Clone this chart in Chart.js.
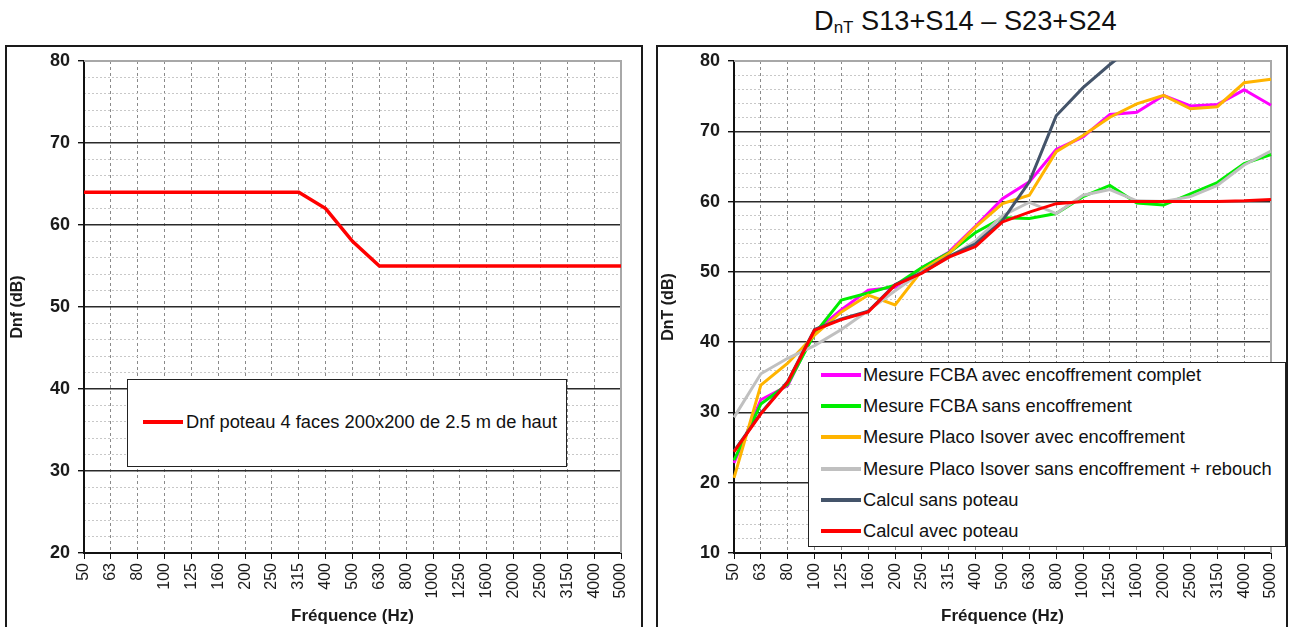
<!DOCTYPE html>
<html>
<head>
<meta charset="utf-8">
<script src="https://cdn.jsdelivr.net/npm/chart.js@4.4.0/dist/chart.umd.min.js"></script>
<style>
  body { margin: 0; width: 1290px; height: 627px; overflow: hidden; position: relative; background: #fff;
         font-family: "Liberation Sans", Arial, sans-serif; color: #111; }
  .frame { position: absolute; border: 2px solid #1a1a1a; box-sizing: border-box; }
  #frameL { left: 5px; top: 45px; width: 638px; height: 620px; }
  #frameR { left: 656px; top: 45px; width: 632px; height: 620px; }
  canvas { position: absolute; }
  #leftWrap { position: absolute; left: 6px; top: 46px; width: 636px; height: 581px; }
  #rightWrap { position: absolute; left: 657px; top: 46px; width: 628px; height: 581px; }
  .legend { position: absolute; background: #fff; border: 1.5px solid #222; box-sizing: border-box; font-size: 18.3px; }
  .legend .row { position: absolute; left: 0; height: 24px; line-height: 24px; white-space: nowrap; }
  .legend .swatch { position: absolute; top: 10px; width: 40px; height: 4px; }
  .legend .txt { position: absolute; top: 0; }
  #legendL { left: 127px; top: 379px; width: 440px; height: 88px; }
  #legendR { left: 808px; top: 362px; width: 478px; height: 185px; }
  #titleR { position: absolute; left: 814px; top: 6px; font-size: 27.2px; line-height: 30px; white-space: nowrap; }
  #titleR sub { font-size: 17px; vertical-align: -3px; }
</style>
</head>
<body>
<div class="frame" id="frameL"></div>
<div class="frame" id="frameR"></div>
<div id="titleR">D<sub>nT</sub> S13+S14 – S23+S24</div>
<div id="leftWrap"><canvas id="leftChart" width="636" height="581"></canvas></div>
<div id="rightWrap"><canvas id="rightChart" width="628" height="581"></canvas></div>
<div class="legend" id="legendL"></div>
<div class="legend" id="legendR"></div>
<script>
// third-octave bands
const freqs = ['50', '63', '80', '100', '125', '160', '200', '250', '315', '400', '500',
  '630', '800', '1000', '1250', '1600', '2000', '2500', '3150', '4000', '5000'];

// left chart
const dnfPoteau = [64, 64, 64, 64, 64, 64, 64, 64, 64, 62, 58, 55, 55, 55, 55, 55, 55, 55, 55, 55, 55];
const leftNames = ['Dnf poteau 4 faces 200x200 de 2.5 m de haut'];
const leftYMin = 20, leftYMax = 80;

// right chart
const fcbaAvec = [22.8, 31.8, 33.8, 41.5, 44.6, 47.4, 47.8, 50.6, 52.8, 56.5, 60.4, 62.8, 67.4, 69.2, 72.4, 72.7, 75.1, 73.6, 73.8, 75.9, 73.7];
const fcbaSans = [23.2, 31.2, 34.0, 41.2, 46.0, 47.0, 48.1, 50.6, 52.7, 55.6, 57.7, 57.6, 58.3, 60.7, 62.3, 59.8, 59.5, 61.1, 62.7, 65.4, 66.7];
const placoAvec = [20.7, 33.9, 37.0, 41.0, 44.3, 46.7, 45.3, 50.2, 52.6, 56.4, 59.7, 60.9, 67.1, 69.4, 72.0, 73.9, 75.1, 73.2, 73.5, 76.9, 77.4];
const placoSans = [29.3, 35.5, 37.7, 39.5, 41.8, 44.5, 47.3, 50.0, 52.0, 54.4, 58.0, 59.9, 58.3, 60.9, 61.7, 60.1, 60.0, 60.7, 62.3, 65.2, 67.2];
const calculSans = [24.5, 29.9, 34.4, 41.8, 43.3, 44.4, 48.2, 49.9, 52.2, 54.0, 57.3, 62.8, 72.2, 76.2, 79.5, 82.5, 85, 87, 89, 91, 92];
const calculAvec = [24.4, 29.8, 34.3, 41.7, 43.2, 44.3, 48.1, 49.8, 52.1, 53.6, 57.1, 58.5, 59.7, 60.0, 60.0, 60.0, 60.0, 60.0, 60.0, 60.1, 60.3];
const rightNames = ['Mesure FCBA avec encoffrement complet', 'Mesure FCBA sans encoffrement',
  'Mesure Placo Isover avec encoffrement', 'Mesure Placo Isover sans encoffrement + rebouch',
  'Calcul sans poteau', 'Calcul avec poteau'];
const rightYMin = 10, rightYMax = 80;

const rightColors = ['#ff00ff', '#00ee00', '#ffb400', '#c0c0c0', '#44546a', '#ff0000'];

Chart.defaults.font.family = '"Liberation Sans", Arial, sans-serif';
Chart.defaults.color = '#1a1a1a';

// grey top/right edge of the plot area
const plotEdge = {
  id: 'plotEdge',
  beforeDatasetsDraw(chart) {
    const a = chart.chartArea, c = chart.ctx;
    c.save();
    c.strokeStyle = '#a8a8a8';
    c.lineWidth = 2;
    c.beginPath();
    c.moveTo(a.left, a.top);
    c.lineTo(a.right, a.top);
    c.lineTo(a.right, a.bottom);
    c.stroke();
    c.restore();
  }
};

function makeOptions(yMin, yMax, yTitle, yWidth, padRight) {
  return {
    responsive: false,
    animation: false,
    layout: { padding: { top: 15, right: padRight, left: 0, bottom: 0 } },
    plugins: { legend: { display: false }, tooltip: { enabled: false } },
    elements: { point: { radius: 0 }, line: { tension: 0 } },
    scales: {
      x: {
        type: 'category',
        offset: false,
        afterFit: s => { s.height = 74; s.paddingLeft = 0; s.paddingRight = 0; },
        grid: { color: '#8a8a8a', lineWidth: 1, tickColor: '#111', tickLength: 6, offset: false },
        border: { color: '#111', width: 2, dash: [3, 3] },
        ticks: { autoSkip: false, minRotation: 90, maxRotation: 90, padding: 4,
                 font: { size: 16 }, color: '#1a1a1a' },
        title: { display: true, text: 'Fréquence (Hz)', font: { size: 17, weight: 'bold' },
                 padding: { top: 0, bottom: 0 }, color: '#1a1a1a' }
      },
      yMinor: {
        type: 'linear', position: 'left', min: yMin, max: yMax,
        afterFit: s => { s.width = 0; s.paddingTop = 0; s.paddingBottom = 0; },
        ticks: { display: false, stepSize: 2 },
        grid: { color: ctx => (ctx.tick && ctx.tick.value % 10 === 0) ? 'transparent' : '#c8c8c8',
                lineWidth: 1, drawTicks: false },
        border: { display: false, dash: [2, 2] }
      },
      y: {
        type: 'linear', position: 'left', min: yMin, max: yMax,
        afterFit: s => { s.width = yWidth; s.paddingTop = 0; s.paddingBottom = 0; },
        ticks: { stepSize: 10, padding: 8, font: { size: 18, weight: 'bold' }, color: '#1a1a1a' },
        grid: { color: ctx => (ctx.tick && (ctx.tick.value === yMax || ctx.tick.value === yMin)) ? 'transparent' : '#2a2a2a',
                lineWidth: 1.4, tickColor: '#111', tickLength: 6 },
        border: { color: '#111', width: 2 },
        title: { display: true, text: yTitle, font: { size: 16, weight: 'bold' },
                 padding: { top: 2, bottom: 0 }, color: '#1a1a1a' }
      }
    }
  };
}

new Chart(document.getElementById('leftChart'), {
  type: 'line',
  data: {
    labels: freqs,
    datasets: [{ label: leftNames[0], data: dnfPoteau, borderColor: '#ff0000', borderWidth: 3.5, fill: false }]
  },
  options: makeOptions(leftYMin, leftYMax, 'Dnf (dB)', 78, 21),
  plugins: [plotEdge]
});

const rightSeries = [fcbaAvec, fcbaSans, placoAvec, placoSans, calculSans, calculAvec];
new Chart(document.getElementById('rightChart'), {
  type: 'line',
  data: {
    labels: freqs,
    datasets: rightSeries.map((d, k) => ({
      label: rightNames[k], data: d, borderColor: rightColors[k], borderWidth: 3,
      fill: false, order: rightSeries.length - k
    }))
  },
  options: makeOptions(rightYMin, rightYMax, 'DnT (dB)', 77, 14),
  plugins: [plotEdge]
});

// legends
function buildLegend(id, names, colors, firstY, step, swatchX, textX) {
  const box = document.getElementById(id);
  names.forEach((n, i) => {
    const row = document.createElement('div');
    row.className = 'row';
    row.style.top = (firstY + i * step - 12) + 'px';
    row.innerHTML = '<span class="swatch" style="left:' + swatchX + 'px;background:' + colors[i] +
      '"></span><span class="txt" style="left:' + textX + 'px">' + n + '</span>';
    box.appendChild(row);
  });
}
buildLegend('legendL', leftNames, ['#ff0000'], 42, 0, 15, 58);
buildLegend('legendR', rightNames, rightColors, 12, 31.2, 12, 54);
</script>
</body>
</html>
